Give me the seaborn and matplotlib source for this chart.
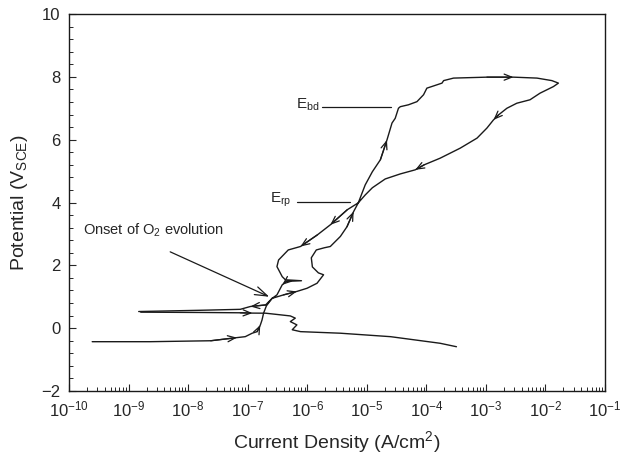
import numpy as np
import pandas as pd
import matplotlib
matplotlib.use("Agg")
import matplotlib.pyplot as plt
import matplotlib.ticker as mticker
import seaborn as sns

# =================== Data ===================
# main scan: forward from the cathodic side up to ~8 V, then the reverse scan
scan_current = [2.45e-10, 2.3e-9, 2.4e-8, 6.6e-8, 9.1e-8, 1.19e-7, 1.44e-7, 1.63e-7,
                1.74e-7, 1.85e-7, 2.06e-7, 2.57e-7, 4.0e-7, 6.7e-7, 9.9e-7, 1.46e-6,
                1.88e-6, 1.54e-6, 1.22e-6, 1.17e-6, 1.42e-6, 1.94e-6, 2.44e-6, 3.6e-6,
                4.65e-6, 6.0e-6, 7.2e-6, 9.4e-6, 1.24e-5, 1.69e-5, 2.18e-5, 2.65e-5,
                3.0e-5, 3.4e-5, 3.65e-5, 5.0e-5, 6.95e-5, 8.97e-5, 1.02e-4, 1.32e-4,
                1.83e-4, 1.95e-4, 2.86e-4, 1.04e-3, 2.9e-3, 7.2e-3, 1.28e-2, 1.65e-2,
                1.36e-2, 8.1e-3, 5.5e-3, 3.3e-3, 2.25e-3, 1.63e-3, 1.34e-3, 1.04e-3,
                7.1e-4, 3.7e-4, 1.7e-4, 9.2e-5, 6.5e-5, 3.65e-5, 2.04e-5, 1.24e-5,
                9.4e-6, 7.2e-6, 4.7e-6, 2.44e-6, 1.48e-6, 7.7e-7, 4.8e-7, 3.3e-7,
                3.1e-7, 3.8e-7, 4.3e-7, 8.0e-7, 4.46e-7, 3.8e-7, 3.1e-7, 2.57e-7,
                2.0e-7, 1.11e-7, 7.5e-8, 1.6e-8, 1.48e-9]
scan_potential = [-0.43, -0.43, -0.40, -0.30, -0.27, -0.16, -0.11, 0.10,
                  0.26, 0.48, 0.71, 0.95, 1.06, 1.17, 1.27, 1.43,
                  1.70, 1.76, 1.95, 2.24, 2.49, 2.56, 2.60, 2.92,
                  3.23, 3.71, 3.99, 4.56, 4.98, 5.36, 5.99, 6.53,
                  6.68, 7.00, 7.05, 7.11, 7.21, 7.43, 7.64, 7.71,
                  7.80, 7.88, 7.96, 7.99, 7.99, 7.96, 7.88, 7.80,
                  7.69, 7.48, 7.27, 7.16, 7.00, 6.79, 6.63, 6.37,
                  6.05, 5.73, 5.41, 5.20, 5.04, 4.91, 4.75, 4.47,
                  4.24, 3.99, 3.77, 3.29, 2.97, 2.60, 2.49, 2.17,
                  1.96, 1.64, 1.54, 1.51, 1.49, 1.38, 1.06, 0.95,
                  0.74, 0.69, 0.60, 0.57, 0.53]
scan_arrows = [3, 7, 13, 25, 30, 44, 54, 60, 67, 69, 77, 81]

# cathodic tail near 0.5 V running out to -0.6 V
tail_current = [1.6e-9, 1.6e-8, 7.5e-8, 1.2e-7, 2.0e-7, 5.2e-7, 6.3e-7, 5.2e-7,
                6.7e-7, 5.6e-7, 7.7e-7, 3.6e-6, 2.5e-5, 1.7e-4, 3.2e-4]
tail_potential = [0.51, 0.50, 0.49, 0.48, 0.477, 0.39, 0.32, 0.21,
                  0.105, -0.05, -0.11, -0.16, -0.27, -0.48, -0.59]
tail_arrows = [3]

# axis ticks
x_decades = [1e-10, 1e-9, 1e-8, 1e-7, 1e-6, 1e-5, 1e-4, 1e-3, 1e-2, 1e-1]
y_ticks = [-2, 0, 2, 4, 6, 8, 10]

# annotations
onset_text = (1.75e-10, 3.1)
onset_from = (5.0e-9, 2.43)
onset_to = (2.3e-7, 1.00)
erp_line_x = [6.7e-7, 5.3e-6]
erp_level = 4.03
ebd_line_x = [1.8e-6, 2.5e-5]
ebd_level = 7.03

# =================== Plot ===================
sns.set_style("ticks")
plt.rcParams['font.family'] = ['Liberation Sans', 'DejaVu Sans']
plt.rcParams['mathtext.default'] = 'regular'

fig = plt.figure(figsize=(6.24, 4.59), dpi=100)
ax = fig.add_axes([0.1106, 0.1481, 0.8590, 0.8214])
ax.set_xscale('log')

line_color = '#1a1a1a'
scan_df = pd.DataFrame({'i': scan_current, 'E': scan_potential})
tail_df = pd.DataFrame({'i': tail_current, 'E': tail_potential})
sns.lineplot(data=scan_df, x='i', y='E', sort=False, estimator=None,
             color=line_color, lw=1.0, ax=ax)
sns.lineplot(data=tail_df, x='i', y='E', sort=False, estimator=None,
             color=line_color, lw=1.0, ax=ax)

# direction arrows along the curve
for xs, ys, idx in [(scan_current, scan_potential, scan_arrows),
                    (tail_current, tail_potential, tail_arrows)]:
    for k in idx:
        ax.annotate('', xy=(xs[k], ys[k]), xytext=(xs[k - 1], ys[k - 1]),
                    arrowprops=dict(arrowstyle='->,head_length=0.55,head_width=0.22',
                                    color=line_color, lw=0.9, shrinkA=0, shrinkB=0,
                                    mutation_scale=10))

# labels on the plot
ax.text(*onset_text, 'Onset of O$_2$ evolution', fontsize=10.5, ha='left', va='center')
ax.annotate('', xy=onset_to, xytext=onset_from,
            arrowprops=dict(arrowstyle='->,head_length=0.9,head_width=0.3',
                            color=line_color, lw=0.9, shrinkA=0, shrinkB=0,
                            mutation_scale=10))
ax.plot(erp_line_x, [erp_level, erp_level], color=line_color, lw=0.9)
ax.text(erp_line_x[0] * 0.8, erp_level + 0.07, 'E$_{rp}$', fontsize=11, ha='right', va='center')
ax.plot(ebd_line_x, [ebd_level, ebd_level], color=line_color, lw=0.9)
ax.text(ebd_line_x[0] * 0.88, ebd_level + 0.07, 'E$_{bd}$', fontsize=11, ha='right', va='center')

# axes
ax.set_xlim(x_decades[0], x_decades[-1])
ax.set_ylim(y_ticks[0], y_ticks[-1])
ax.xaxis.set_major_locator(mticker.FixedLocator(x_decades))
ax.xaxis.set_major_formatter(mticker.LogFormatterSciNotation())
minor_x = [d * m for d in x_decades[:-1] for m in range(2, 10)]
ax.xaxis.set_minor_locator(mticker.FixedLocator(minor_x))
ax.xaxis.set_minor_formatter(mticker.NullFormatter())
ax.yaxis.set_major_locator(mticker.FixedLocator(y_ticks))
ax.yaxis.set_minor_locator(mticker.MultipleLocator(0.4))
ax.tick_params(which='major', direction='in', length=5, width=0.8, labelsize=12, pad=6)
ax.tick_params(which='minor', direction='in', length=3, width=0.7)
for s in ax.spines.values():
    s.set_linewidth(1.0)
    s.set_color(line_color)

ax.set_xlabel('Current Density (A/cm$^2$)', fontsize=14, labelpad=7)
ax.set_ylabel('Potential (V$_{SCE}$)', fontsize=14, labelpad=8)

fig.savefig('out.png', dpi=100)
